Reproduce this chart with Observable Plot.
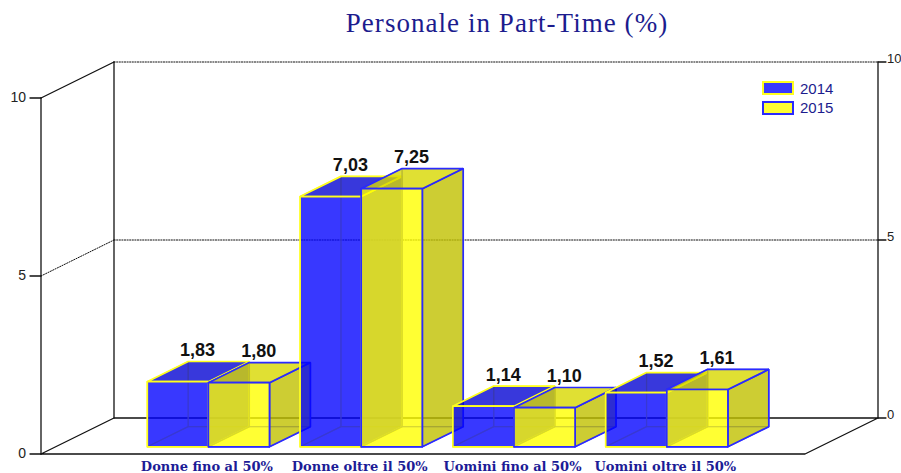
<!DOCTYPE html>
<html><head><meta charset="utf-8">
<script src="https://cdn.jsdelivr.net/npm/d3@7"></script>
<script src="https://cdn.jsdelivr.net/npm/@observablehq/plot@0.6"></script>
<style>
html,body{margin:0;padding:0;background:#fff}
#wrap{position:relative;width:901px;height:473px;overflow:hidden}
#wrap svg{position:absolute;left:0;top:0;background:#fff}
#title{position:absolute;left:257px;width:500px;top:8px;text-align:center;font:27px "Liberation Serif",serif;letter-spacing:1.05px;color:#1c1c8e;white-space:nowrap}
.lg{position:absolute;left:762px;height:14px;display:flex;align-items:center;font:15px "Liberation Sans",sans-serif;color:#1c1c8e}
.lg i{display:block;box-sizing:border-box;width:32px;height:14px;border:2px solid;margin-right:6px}
</style></head><body>
<div id="wrap"></div>
<script>
const categories = ["Donne fino al 50%","Donne oltre il 50%","Uomini fino al 50%","Uomini oltre il 50%"];
const series2014 = [1.83,7.03,1.14,1.52];
const series2015 = [1.80,7.25,1.10,1.61];
const seriesNames = ["2014","2015"];
const axisTicks = [0,5,10];
const titleText = "Personale in Part-Time (%)";

const depthX = 73/152.8, depthY = 36/35.6;
const P = (x,v,d=0)=>({x:x+d*depthX, y:v+d*depthY});
const line = (pts,o)=>Plot.line(pts,{x:"x",y:"y",...o});
const poly = (pts,o)=>line([...pts,pts[0]],{strokeLinejoin:"miter",...o});
const ink = {stroke:"#111",strokeWidth:1.3};
const dotted = {stroke:"#111",strokeWidth:1,strokeDasharray:"1.2,1.4"};

const D0=.2, D1=.76, W=.4;
const styles = [
 {stroke:"#ffff1e",front:"#0000ff",side:"#0000d2",top:"#0000d2",alpha:.78,inner:.7},
 {stroke:"#2a2aff",front:"#ffff00",side:"#c0c000",top:"#d8d800",alpha:.8,inner:.7}
];
function box(x0,v,s){
  const x1=x0+W;
  const a=(x,h,d)=>P(x,h,d);
  const edge={stroke:s.stroke,strokeWidth:1.2,strokeOpacity:s.inner};
  const lineStyle={stroke:s.stroke,strokeWidth:1.7};
  const face=(c)=>({fill:c,fillOpacity:s.alpha,...lineStyle});
  return [
    poly([a(x0,0,D1),a(x1,0,D1),a(x1,v,D1),a(x0,v,D1)],edge),
    poly([a(x0,0,D0),a(x0,0,D1),a(x0,v,D1),a(x0,v,D0)],edge),
    poly([a(x0,0,D0),a(x1,0,D0),a(x1,0,D1),a(x0,0,D1)],edge),
    poly([a(x1,0,D0),a(x1,0,D1),a(x1,v,D1),a(x1,v,D0)],face(s.side)),
    poly([a(x0,v,D0),a(x1,v,D0),a(x1,v,D1),a(x0,v,D1)],face(s.top)),
    poly([a(x0,0,D0),a(x1,0,D0),a(x1,v,D0),a(x0,v,D0)],face(s.front))
  ];
}
const bars = categories.flatMap((c,i)=>{
  const k=i+1;
  return [...box(k-W,series2014[i],styles[0]),...box(k,series2015[i],styles[1])];
});
const labels = categories.flatMap((c,i)=>{
  const k=i+1, mid=(D0+D1)/2;
  return [[k-W/2,series2014[i]],[k+W/2,series2015[i]]].map(([x,v])=>({x:x+mid*depthX,y:v+D1*depthY,t:v.toFixed(2).replace(".",",")}));
});
const frame=[
  line([P(0,0),P(5,0),P(5,0,1),P(0,0,1),P(0,0)],ink),
  line([P(0,0),P(0,10)],ink),
  line([P(0,0,1),P(0,10,1)],ink),
  line([P(5,0,1),P(5,10,1)],ink),
  line([P(0,10),P(0,10,1)],ink),
  line([P(0,5),P(0,5,1)],dotted),
  ...[5,10].map(v=>line([P(0,v,1),P(5,v,1)],dotted)),
  ...axisTicks.flatMap(v=>[
    line([P(-.072,v),P(0,v)],ink),
    line([P(5,v,1),P(5.052,v,1)],ink)
  ])
];
const tickFont={fontFamily:"Liberation Sans",fill:"#222"};
const chart = Plot.plot({
  width:901,height:473,margin:0,
  x:{domain:[0,5],range:[40.5,804.5],axis:null},
  y:{domain:[0,10],range:[453.5,97.5],axis:null},
  marks:[
    ...frame,
    ...bars,
    Plot.text(axisTicks,{x:P(0,0).x,y:d=>d,text:d=>String(d),textAnchor:"end",dx:-15,fontSize:14,...tickFont}),
    Plot.text(axisTicks,{x:P(5,0,1).x,y:d=>d+depthY,text:d=>String(d),textAnchor:"start",dx:9,dy:-3,fontSize:13,...tickFont}),
    Plot.text(labels,{x:"x",y:"y",text:"t",lineAnchor:"bottom",dx:-.7,dy:-5.5,fontFamily:"Liberation Sans",fontWeight:"bold",fontSize:18,fill:"#111"}),
    Plot.text(categories,{x:(d,i)=>i+1+D0*depthX,y:0,text:d=>d,dx:-1.5,dy:13,fontFamily:"DejaVu Serif",fontWeight:"bold",fontSize:13,fill:"#1c1c96"})
  ]
});
const wrap=document.getElementById("wrap");
wrap.append(chart);
const t=document.createElement("div");t.id="title";t.textContent=titleText;wrap.append(t);
seriesNames.forEach((n,i)=>{
  const r=document.createElement("div");r.className="lg";r.style.top=(81+i*19.5)+"px";
  const sw=document.createElement("i");sw.style.background=i?"#ffff33":"#3838ff";sw.style.borderColor=i?"#2a2aff":"#ffff1e";
  r.append(sw,n);wrap.append(r);
});
</script></body></html>
